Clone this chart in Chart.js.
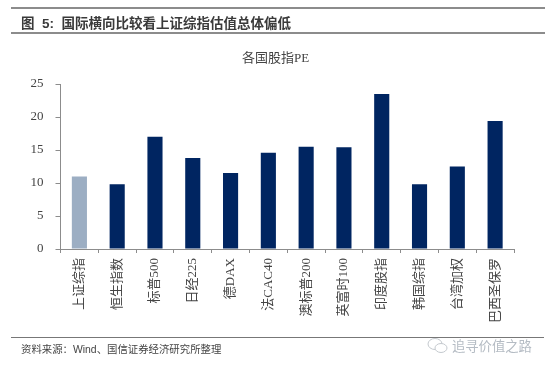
<!DOCTYPE html>
<html>
<head>
<meta charset="utf-8">
<script src="https://cdn.jsdelivr.net/npm/chart.js@4"></script>
<style>
    body { margin: 0; background: #fff; }
    #wrap { position: relative; width: 550px; height: 371px; overflow: hidden; font-family: "Liberation Serif", "Noto Sans CJK SC", serif; }
    #wrap canvas { position: absolute; left: 0; top: 0; }
    .rule { position: absolute; background: #8c8c8c; }
    .txt { position: absolute; white-space: nowrap; }
</style>
</head>
<body>
<div id="wrap">
    <canvas id="myChart" width="550" height="371"></canvas>
    <div class="rule" style="left:11px;top:7px;width:534px;height:2px"></div>
    <div class="rule" style="left:11px;top:32px;width:534px;height:2px"></div>
    <div class="rule" style="left:11px;top:337px;width:533px;height:1px;background:#777"></div>
    <div class="txt" style="left:21px;top:12px;font:bold 13.5px 'Liberation Sans','Noto Sans CJK SC';color:#3a3a3a">图&nbsp;&nbsp;5:&nbsp;&nbsp;国际横向比较看上证综指估值总体偏低</div>
    <div class="txt" style="left:242px;top:47px;font:13px 'Liberation Serif','Noto Sans CJK SC';color:#444">各国股指PE</div>
    <div class="txt" style="left:21px;top:341px;font:10.4px 'Liberation Sans','Noto Sans CJK SC';color:#444">资料来源：Wind、国信证券经济研究所整理</div>
    <div class="txt" style="left:452px;top:336px;font:13.3px 'Noto Sans CJK SC';color:#b5bcc4">追寻价值之路</div>
    <svg style="position:absolute;left:426px;top:336px" width="24" height="20">
        <ellipse cx="9" cy="8" rx="7" ry="5.5" fill="none" stroke="#c4c9ce"/>
        <ellipse cx="15" cy="12" rx="6" ry="4.5" fill="#fff" stroke="#c4c9ce"/>
    </svg>
</div>
<script>
const categories = ['上证综指', '恒生指数', '标普500', '日经225', '德DAX', '法CAC40', '澳标普200', '英富时100', '印度股指', '韩国综指', '台湾加权', '巴西圣保罗'];
const peValues = [11, 9.8, 17, 13.8, 11.5, 14.6, 15.5, 15.4, 23.5, 9.8, 12.5, 19.4];
const yTicks = [0, 5, 10, 15, 20, 25];

const fontFamily = '"Liberation Serif", "Noto Sans CJK SC", serif';

new Chart(document.getElementById('myChart').getContext('2d'), {
    type: 'bar',
    data: {
        labels: categories,
        datasets: [{
            label: '各国股指PE',
            data: peValues,
            backgroundColor: ctx => ctx.dataIndex === 0 ? '#9caec3' : '#002561',
            barPercentage: 0.4,
            categoryPercentage: 1
        }]
    },
    options: {
        responsive: false,
        animation: false,
        layout: { padding: { top: 84, right: 36, bottom: 0, left: 0 } },
        plugins: {
            legend: { display: false },
            tooltip: { enabled: false }
        },
        scales: {
            x: {
                offset: true,
                afterFit: scale => { scale.height = 122; },
                grid: { display: true, drawOnChartArea: false, offset: true, color: '#8c8c8c', tickLength: 4 },
                border: { color: '#8c8c8c', width: 1 },
                ticks: {
                    autoSkip: false,
                    minRotation: 90,
                    maxRotation: 90,
                    padding: 5,
                    color: '#444',
                    font: { family: fontFamily, size: 13 }
                }
            },
            y: {
                min: 0,
                max: 25,
                afterFit: scale => { scale.width = 60.5; },
                afterBuildTicks: scale => { scale.ticks = yTicks.map(v => ({ value: v })); },
                grid: { display: true, drawOnChartArea: false, color: '#8c8c8c', tickLength: 5 },
                border: { color: '#8c8c8c', width: 1 },
                ticks: {
                    padding: 12,
                    color: '#444',
                    font: { family: fontFamily, size: 13 }
                }
            }
        }
    }
});
</script>
</body>
</html>
